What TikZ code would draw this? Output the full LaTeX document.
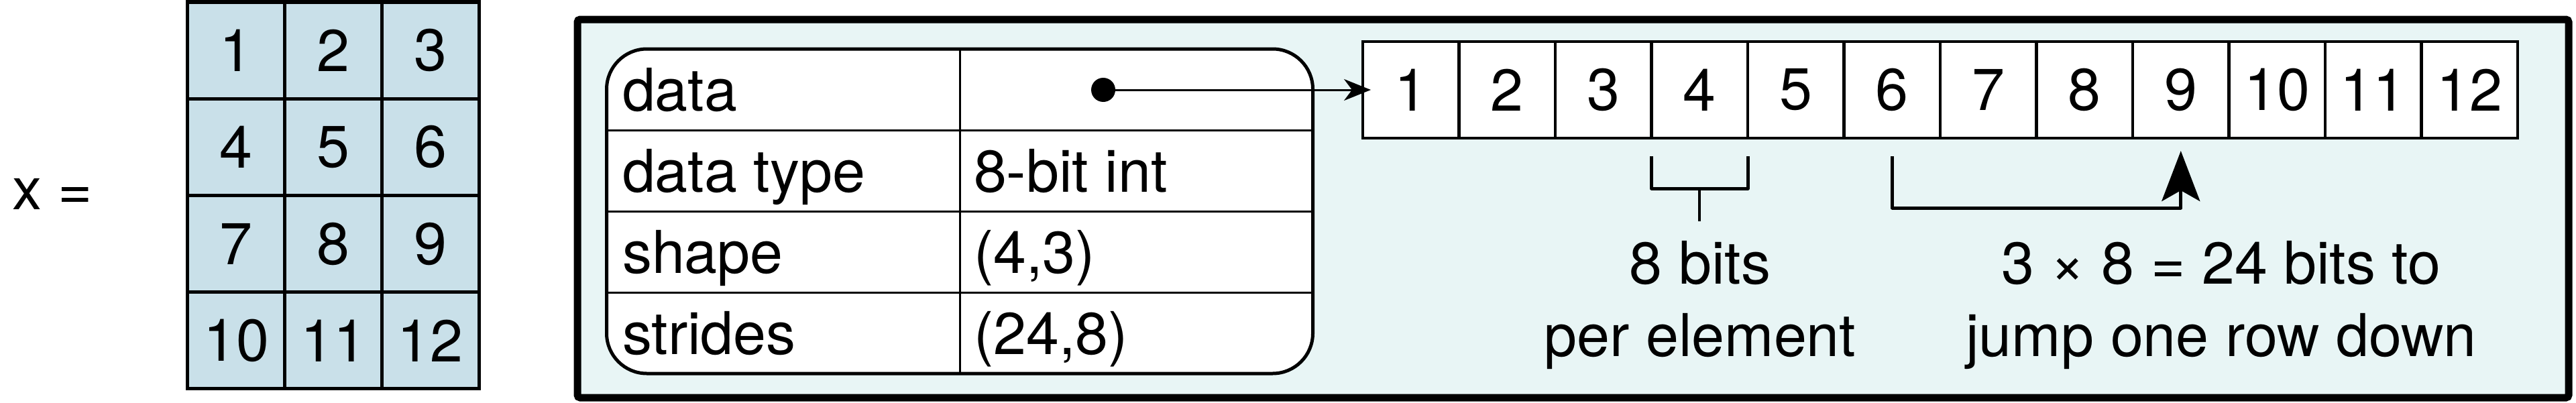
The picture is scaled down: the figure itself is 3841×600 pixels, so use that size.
\documentclass[tikz,border=0pt]{standalone}
\usepackage{fontspec}
\setmainfont{TeX Gyre Heros}
\usetikzlibrary{arrows.meta,calc}
\definecolor{matblue}{RGB}{201,224,233}
\definecolor{boxbg}{RGB}{232,245,245}
\begin{document}
\begin{tikzpicture}[x=0.25pt,y=-0.25pt,
  every node/.style={font=\fontsize{22}{27}\selectfont, inner sep=0pt, outer sep=0pt},
  mcell/.style={draw, fill=matblue, line width=1.25pt, minimum width=36.17pt, minimum height=36.06pt},
  acell/.style={draw, fill=white, line width=1.1pt, minimum width=35.875pt, minimum height=36pt},
  lbl/.style={anchor=base west},
  thinline/.style={line width=0.75pt},
  midline/.style={line width=1.25pt}]
\useasboundingbox (0,0) rectangle (3841,600);

% left: x = matrix
\node[anchor=base] (xeq) at (78,312) {x =};
\foreach \r in {0,...,3}{
  \foreach \c in {0,...,2}{
    \pgfmathtruncatemacro{\n}{3*\r+\c+1}
    \node[mcell] (m\n) at ({280+144.67*\c+72.33},{3+144.25*\r+72.12}) {\n};
  }
}

% outer frame
\node[draw, line width=2.75pt, fill=boxbg, rounded corners=1pt,
      minimum width=742.25pt, minimum height=141pt] (frame) at (2345.5,311) {};

% table
\node[draw, line width=1.25pt, fill=white, rounded corners=15pt,
      minimum width=263.25pt, minimum height=121pt] (tbl) at (1431,315) {};
\foreach \yy in {194,315,436}{
  \draw[thinline] (906,\yy) -- (1956,\yy);
}
\draw[thinline] (1431,74) -- (1431,556);
\node[lbl] (k1) at (928,165) {data};
\node[lbl] (k2) at (928,286) {data type};
\node[lbl] (k3) at (928,407) {shape};
\node[lbl] (k4) at (928,528) {strides};
\node[lbl] (v2) at (1452,286) {8-bit int};
\node[lbl] (v3) at (1452,407) {(4,3)};
\node[lbl] (v4) at (1452,528) {(24,8)};
\node[circle, fill=black, minimum size=9pt] (dot) at (1645,134) {};

% array
\foreach \i in {1,...,12}{
  \node[acell] (a\i) at ({2032+143.5*\i-71.75},134) {\i};
}
\draw[thinline, -{Stealth[length=10pt,width=8pt,inset=3pt]}, shorten >=-3pt] (dot.center) -- (a1.west);

% bracket under element 4
\draw[midline, line join=round] ($(a4.south west)+(0,27)$) -- ++(0,48) -- ($(a4.south east)+(0,75)$) -- ++(0,-48);
\draw[line width=1pt] ($(a4.south)+(0,75)$) -- ++(0,49);

% jump arrow from 6 to 9
\draw[midline, line join=round, -{Stealth[length=18.75pt,width=14.25pt,inset=4pt]}]
  ($(a6.south)+(0,27)$) -- ($(a6.south)+(0,104)$) -| ($(a9.south)+(0,19)$);

% labels
\node[anchor=base] (e1) at (2535,423) {8 bits};
\node[anchor=base] (e2) at (2535,531) {per element};
\node[anchor=base] (j1) at (3312,423) {3 × 8 = 24 bits to};
\node[anchor=base] (j2) at (3312,531) {jump one row down};
\end{tikzpicture}
\end{document}
